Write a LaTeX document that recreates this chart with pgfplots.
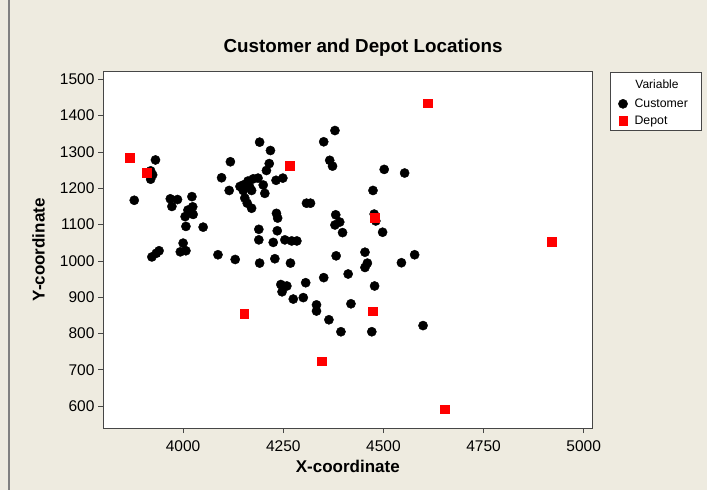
\documentclass[border=0pt]{standalone}
\usepackage{fontspec}
\setmainfont{Liberation Sans}
\usepackage{pgfplots}
\pgfplotsset{compat=1.18}
\usepackage{pgfplotstable}
\definecolor{bgbeige}{RGB}{238,235,224}
\definecolor{framegray}{RGB}{70,70,70}

\pgfplotstableread{
x y
3931 1278
3919 1248
3924 1237
3919 1225
3878 1167
3968 1171
3986 1169
3972 1150
4022 1177
4024 1149
4012 1140
4025 1128
4005 1122
4007 1095
4050 1093
4000 1049
3993 1025
4007 1028
3940 1028
3933 1021
3922 1011
4087 1017
4130 1004
4118 1273
4096 1229
4115 1194
4142 1205
4191 1327
4218 1304
4215 1268
4208 1249
4150 1209
4162 1220
4175 1226
4187 1228
4150 1194
4166 1204
4171 1194
4200 1209
4204 1186
4154 1173
4160 1159
4171 1145
4232 1222
4249 1228
4308 1159
4318 1159
4233 1131
4236 1118
4189 1087
4235 1083
4189 1058
4225 1051
4254 1058
4271 1055
4284 1055
4191 994
4229 1006
4268 994
4351 1328
4379 1359
4366 1277
4373 1261
4381 1127
4391 1107
4379 1099
4398 1078
4382 1014
4502 1252
4553 1242
4474 1194
4477 1129
4481 1110
4498 1079
4454 1024
4578 1017
4460 994
4454 982
4545 995
4306 940
4351 954
4412 964
4478 931
4244 935
4259 931
4247 915
4275 895
4300 899
4333 879
4333 862
4364 838
4394 805
4419 882
4471 805
4599 822
}\customers

\pgfplotstableread{
x y
3867 1285
3909 1243
4266 1263
4610 1434
4479 1119
4920 1053
4473 862
4346 724
4653 592
4152 855
}\depots

\begin{document}
\begin{tikzpicture}[x=1pt,y=1pt]
\fill[bgbeige] (0,0) rectangle (707,490);
\useasboundingbox (0,0) rectangle (707,490);
\draw[gray, line width=1.5pt] (9,0) -- (9,490);
\draw[framegray, line width=0.8pt, fill=white] (610,360) rectangle (701,417.7);
\node[font=\fontsize{12}{14}\selectfont] at (657,406) {Variable};
\begin{axis}[
  at={(103pt,62pt)}, anchor=south west,
  scale only axis, width=489.5pt, height=356.3pt,
  xmin=3800, xmax=5022, ymin=540, ymax=1521,
  xtick={4000,4250,4500,4750,5000},
  ytick={600,700,800,900,1000,1100,1200,1300,1400,1500},
  scaled ticks=false,
  /pgf/number format/1000 sep={},
  /pgf/number format/assume math mode=true,
  tick align=outside, xtick pos=left, ytick pos=left,
  major tick length=5pt,
  tick style={framegray, line width=0.8pt},
  axis line style={framegray, line width=1pt},
  axis background/.style={fill=white},
  ticklabel style={font=\fontsize{15.5}{18}\selectfont},
  xticklabel style={yshift=-4pt},
  title={Customer and Depot Locations},
  title style={font=\bfseries\fontsize{18.8}{21}\selectfont, at={(axis description cs:0.5312,1)}, anchor=base, yshift=13pt},
  xlabel={X-coordinate},
  xlabel style={font=\bfseries\fontsize{17}{20}\selectfont, at={(axis description cs:0.5,-0.1067)}, anchor=center},
  ylabel={Y-coordinate},
  ylabel style={font=\bfseries\fontsize{17}{20}\selectfont, at={(axis description cs:-0.1318,0.5)}, anchor=center},
  legend style={draw=none, fill=none, at={(axis description cs:1.0525,0.9301)}, anchor=north west,
    font=\fontsize{12.3}{14}\selectfont, inner sep=0pt, row sep=3pt,
    /tikz/every odd column/.append style={column sep=5pt}},
  legend cell align=left,
]
\addplot[only marks, mark=*, mark size=4.6pt, mark options={fill=black, draw=black}] table[x=x,y=y] {\customers};
\addlegendentry{Customer}
\addplot[only marks, mark=square*, mark size=4.3pt, mark options={fill=red, draw=red}] table[x=x,y=y] {\depots};
\addlegendentry{Depot}
\end{axis}
\end{tikzpicture}
\end{document}
